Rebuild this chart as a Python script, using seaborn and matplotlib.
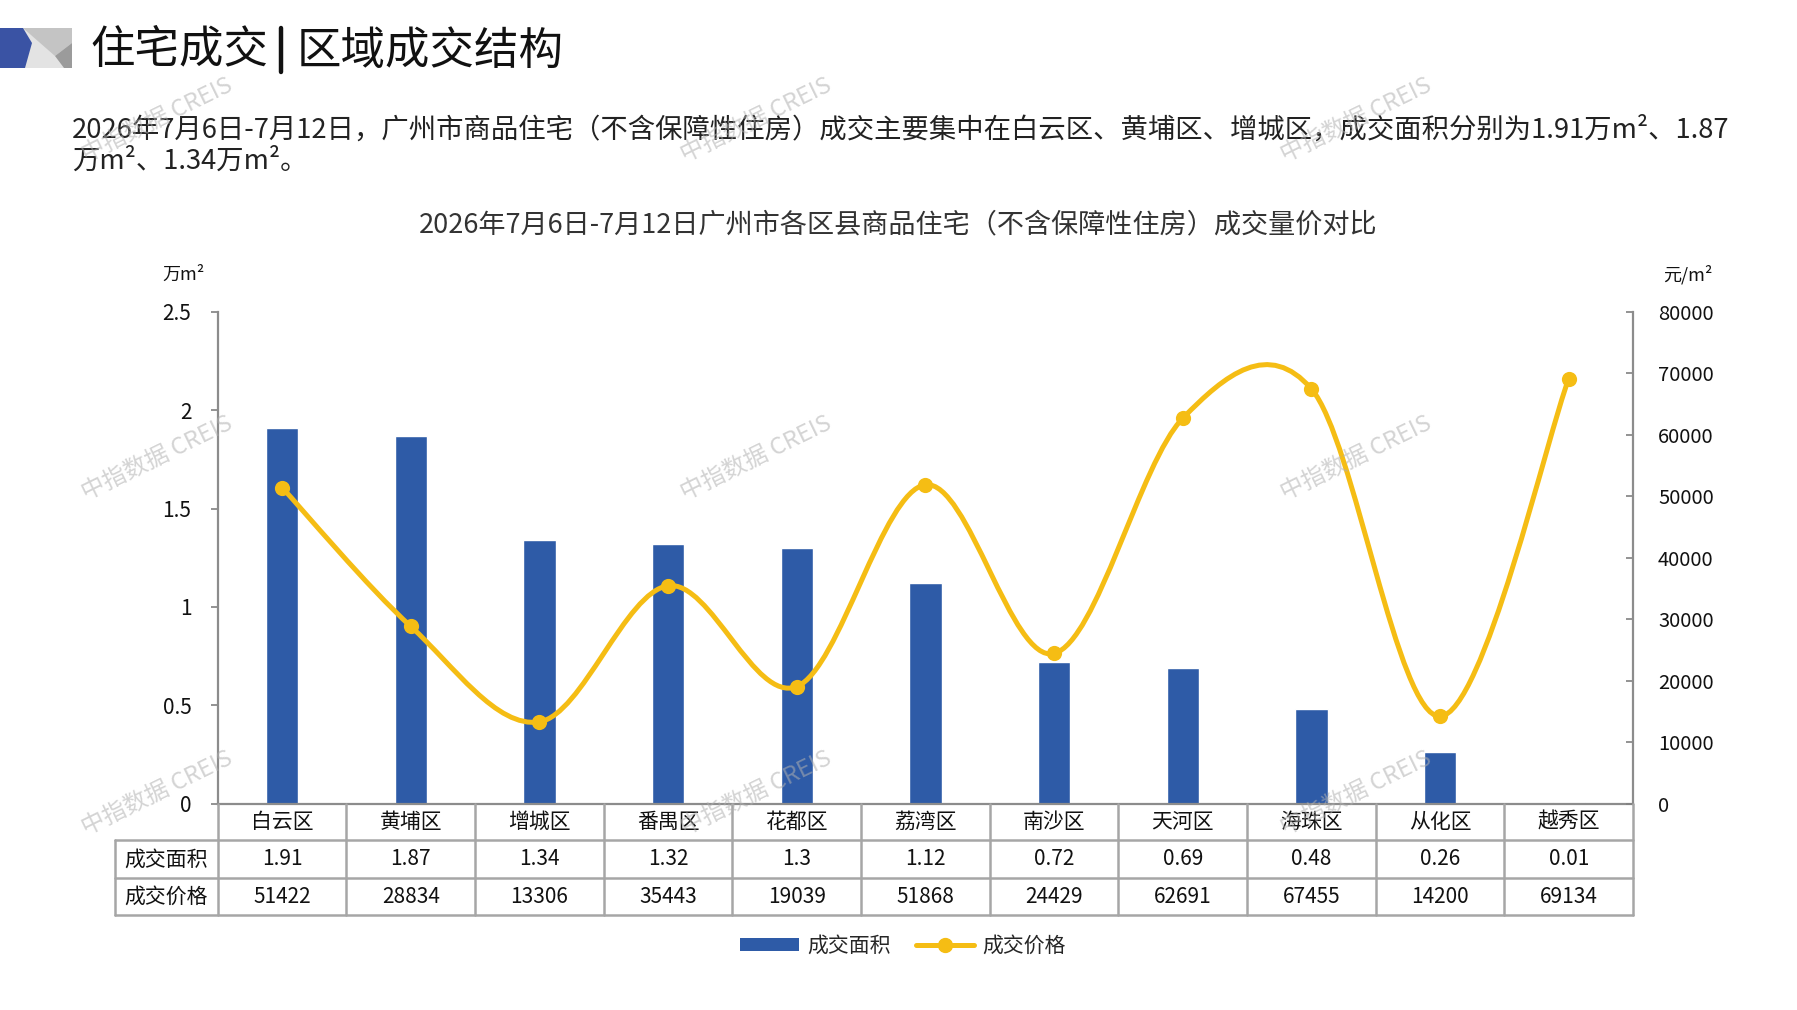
import numpy as np
import pandas as pd
import seaborn as sns
import matplotlib
matplotlib.use("Agg")
from matplotlib import pyplot as plt
from matplotlib import transforms
from matplotlib.path import Path
from matplotlib.patches import PathPatch, Patch, Polygon
from matplotlib.lines import Line2D

districts = ["白云区", "黄埔区", "增城区", "番禺区", "花都区", "荔湾区",
             "南沙区", "天河区", "海珠区", "从化区", "越秀区"]
area = [1.91, 1.87, 1.34, 1.32, 1.3, 1.12, 0.72, 0.69, 0.48, 0.26, 0.01]
price = [51422, 28834, 13306, 35443, 19039, 51868, 24429, 62691, 67455, 14200, 69134]
area_labels = ["1.91", "1.87", "1.34", "1.32", "1.3", "1.12", "0.72", "0.69", "0.48", "0.26", "0.01"]
left_ticks = [0, 0.5, 1, 1.5, 2, 2.5]
left_tick_labels = ["0", "0.5", "1", "1.5", "2", "2.5"]
right_ticks = [0, 10000, 20000, 30000, 40000, 50000, 60000, 70000, 80000]

BLUE = "#2E5BA7"
GOLD = "#F5BD14"
GRID = "#A6A6A6"

sns.set_theme(style="white")
plt.rcParams["font.family"] = ["Noto Sans CJK SC", "DejaVu Sans"]

W, H = 1797, 1010
fig = plt.figure(figsize=(W / 100, H / 100), dpi=100)

def fx(x):
    return x / 1568

def fy(y):
    return 1 - y / 881

# header icon (pixel coords of the real image)
def poly(pts, color):
    fig.add_artist(Polygon([(x / W, 1 - y / H) for x, y in pts], closed=True,
                           facecolor=color, edgecolor="none", transform=fig.transFigure))

poly([(20, 28), (72, 28), (72, 68), (20, 68)], "#E3E3E3")
poly([(23, 28), (72, 28), (72, 43), (55, 56)], "#C4C4C4")
poly([(72, 43), (55, 56), (64, 68), (72, 68)], "#9B9B9B")
poly([(0, 28), (23, 28), (32, 43), (25, 68), (0, 68)], "#3A53A4")

fig.text(fx(79), fy(44), "住宅成交", fontsize=32, color="#111111",
         ha="left", va="center")
fig.add_artist(Line2D([fx(245), fx(245)], [fy(24), fy(63)], color="#111111",
                      lw=3.2, transform=fig.transFigure))
fig.text(fx(259), fy(44), "区域成交结构", fontsize=32, color="#111111",
         ha="left", va="center")

fig.text(fx(63), fy(113),
         "2026年7月6日-7月12日，广州市商品住宅（不含保障性住房）成交主要集中在白云区、黄埔区、增城区，成交面积分别为1.91万m²、1.87",
         fontsize=19.7, color="#222222", ha="left", va="center")
fig.text(fx(63), fy(141), "万m²、1.34万m²。", fontsize=19.7, color="#222222",
         ha="left", va="center")

fig.text(fx(784), fy(196),
         "2026年7月6日-7月12日广州市各区县商品住宅（不含保障性住房）成交量价对比",
         fontsize=19.5, color="#333333", ha="center", va="center")

# main axes
ax = fig.add_axes([fx(190), fy(701), fx(1425) - fx(190), fy(272) - fy(701)])
df = pd.DataFrame({"district": districts, "area": area})
sns.barplot(data=df, x="district", y="area", color=BLUE, width=0.25,
            saturation=1, ax=ax)
ax.set_xlim(-0.5, len(districts) - 0.5)
ax.set_ylim(0, 2.5)
ax.set_xticks([])
ax.set_xlabel("")
ax.set_ylabel("")
ax.set_yticks(left_ticks)
ax.set_yticklabels(left_tick_labels)
ax.tick_params(axis="y", direction="out", length=5, width=1.2, color="#808080",
               labelsize=15, pad=14, labelcolor="#111111", left=True)
for s in ["top", "right"]:
    ax.spines[s].set_visible(False)
for s in ["left", "bottom"]:
    ax.spines[s].set_color("#8C8C8C")
    ax.spines[s].set_linewidth(1.6)

ax2 = ax.twinx()
xs = np.arange(len(price), dtype=float)
ys = np.array(price, dtype=float)
# smoothed line (Catmull-Rom as cubic Bezier, like Excel smoothing)
pts = np.column_stack([xs, ys])
ext = np.vstack([pts[0], pts, pts[-1]])
verts = [tuple(pts[0])]
codes = [Path.MOVETO]
for i in range(len(pts) - 1):
    p0, p1, p2, p3 = ext[i], ext[i + 1], ext[i + 2], ext[i + 3]
    c1 = p1 + (p2 - p0) / 6
    c2 = p2 - (p3 - p1) / 6
    verts += [tuple(c1), tuple(c2), tuple(p2)]
    codes += [Path.CURVE4] * 3
ax2.add_patch(PathPatch(Path(verts, codes), facecolor="none", edgecolor=GOLD,
                        lw=3.6, capstyle="round", joinstyle="round"))
sns.scatterplot(x=xs, y=ys, ax=ax2, color=GOLD, s=120, edgecolor=GOLD,
                linewidth=0, zorder=3)
ax2.set_xlim(-0.5, len(districts) - 0.5)
ax2.set_ylim(0, 80000)
ax2.set_yticks(right_ticks)
ax2.set_yticklabels([str(t) for t in right_ticks])
ax2.tick_params(axis="y", direction="in", length=5, width=1.2, color="#808080",
                labelsize=14.5, pad=18, labelcolor="#111111", right=True)
for s in ["top", "left", "bottom"]:
    ax2.spines[s].set_visible(False)
ax2.spines["right"].set_color("#8C8C8C")
ax2.spines["right"].set_linewidth(1.6)

fig.text(fx(160), fy(240), "万m²", fontsize=13, ha="center", va="center", color="#111111")
fig.text(fx(1473), fy(240), "元/m²", fontsize=13, ha="center", va="center", color="#111111")

# data table under the axis
blend = transforms.blended_transform_factory(ax.transData, fig.transFigure)
row_y = [fy(701), fy(733), fy(766), fy(798)]
for y in row_y[1:]:
    fig.add_artist(Line2D([fx(100), fx(1425)], [y, y], color=GRID, lw=1.8,
                          transform=fig.transFigure))
for i in range(len(districts) + 1):
    fig.add_artist(Line2D([i - 0.5, i - 0.5], [row_y[0], row_y[3]], color=GRID,
                          lw=1.8, transform=blend))
fig.add_artist(Line2D([fx(100), fx(100)], [row_y[1], row_y[3]], color=GRID, lw=1.8,
                      transform=fig.transFigure))

for i, name in enumerate(districts):
    fig.text(i, fy(717), name, transform=blend, ha="center", va="center",
             fontsize=15, color="#111111")
    fig.text(i, fy(749.5), area_labels[i], transform=blend, ha="center",
             va="center", fontsize=15, color="#111111")
    fig.text(i, fy(782), str(price[i]), transform=blend, ha="center",
             va="center", fontsize=15, color="#111111")
fig.text(fx(145), fy(749.5), "成交面积", ha="center", va="center", fontsize=15, color="#111111")
fig.text(fx(145), fy(782), "成交价格", ha="center", va="center", fontsize=15, color="#111111")

handles = [Patch(facecolor=BLUE, edgecolor="none"),
           Line2D([0], [0], color=GOLD, lw=3.6, marker="o", markersize=10)]
fig.legend(handles, ["成交面积", "成交价格"], loc="center",
           bbox_to_anchor=(fx(788), fy(825)), ncol=2, frameon=False,
           fontsize=15, handlelength=2.8, handleheight=0.55, columnspacing=1.2,
           handletextpad=0.4)

# watermarks
for wx in [137, 660, 1183]:
    for wy in [105, 400, 692]:
        fig.text(fx(wx), fy(wy), "中指数据 CREIS", rotation=26, fontsize=17,
                 color="#B0B0B0", alpha=0.55, ha="center", va="center", zorder=10)

fig.savefig("out.png", dpi=100, facecolor="white")
